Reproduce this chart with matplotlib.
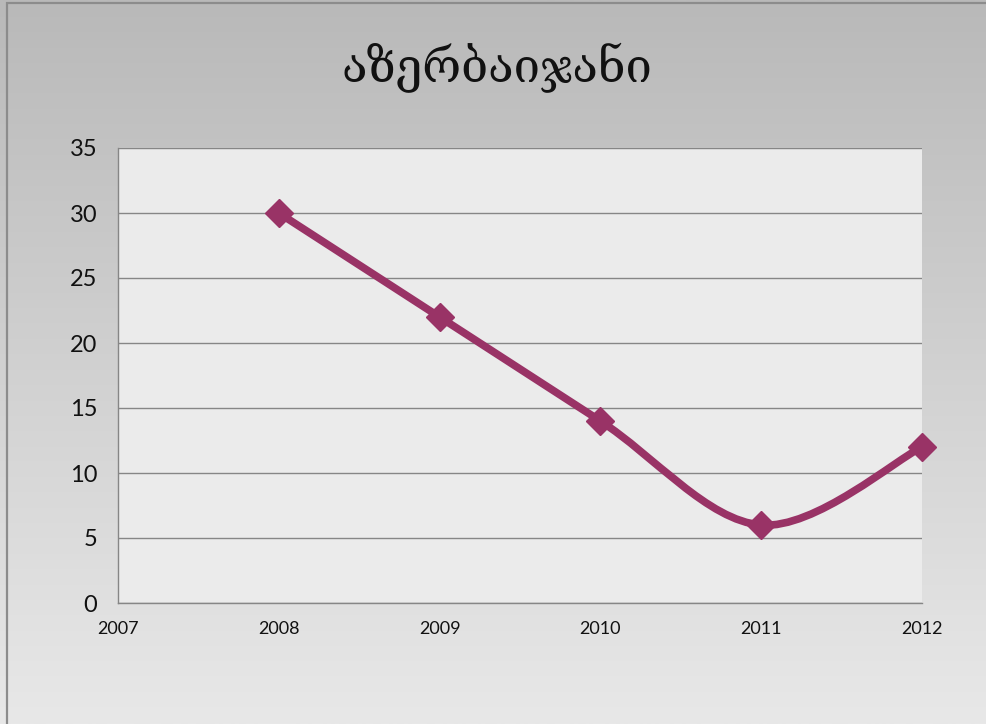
import numpy as np
import matplotlib as mpl, matplotlib.pyplot as plt
from matplotlib.path import Path
from matplotlib.patches import PathPatch, Rectangle

LINE = "#993366"; GRID = "#868686"; PLOT_BG = "#EBEBEB"
mpl.rcParams.update({"font.family": ["Lato", "DejaVu Sans"]})

title = "აზერბაიჯანი"
years = [2008, 2009, 2010, 2011, 2012]
values = [30, 22, 14, 6, 12]
x_ticks = [2007, 2008, 2009, 2010, 2011, 2012]
y_ticks = [0, 5, 10, 15, 20, 25, 30, 35]

fig = plt.figure(figsize=(9.87, 7.24), dpi=100)

# vertical grey gradient behind everything
bg = fig.add_axes([0, 0, 1, 1], zorder=-10)
grad = np.linspace(0, 1, 256).reshape(-1, 1)
top, bot = np.array([0xB9, 0xB9, 0xB9]) / 255, np.array([0xE8, 0xE8, 0xE8]) / 255
img = top + (bot - top) * grad[..., None]
bg.imshow(img, aspect="auto", extent=[0, 1, 0, 1])
bg.set_axis_off()
fig.add_artist(Rectangle((7 / 987, -0.1), 1.2, 1.1 - 3 / 724, transform=fig.transFigure,
                         fill=False, edgecolor="#8C8C8C", lw=1.6, zorder=-5))

ax = fig.add_axes([118 / 987, 121 / 724, 804 / 987, 455 / 724])
ax.set_facecolor(PLOT_BG)
ax.set_xlim(2007, 2012); ax.set_ylim(0, 35)
ax.set_xticks(x_ticks); ax.set_yticks(y_ticks)
ax.grid(axis="y", color=GRID, lw=1.0, zorder=0)
ax.set_axisbelow(True)
for s in ["top", "right"]:
    ax.spines[s].set_visible(False)
for s in ["left", "bottom"]:
    ax.spines[s].set_color(GRID); ax.spines[s].set_linewidth(1.0)
ax.tick_params(length=0)
ax.tick_params(axis="y", labelsize=17, pad=15, labelcolor="#111111")
ax.tick_params(axis="x", labelsize=13, pad=13, labelcolor="#111111")

# smoothed line: cubic Bezier segments through the points (Catmull-Rom style)
P = np.column_stack([years, values]).astype(float)
verts = [P[0]]; codes = [Path.MOVETO]
for i in range(len(P) - 1):
    prev = P[i - 1] if i > 0 else P[i]
    nxt = P[i + 2] if i + 2 < len(P) else P[i + 1]
    c1 = P[i] + (P[i + 1] - prev) / 6
    c2 = P[i + 1] - (nxt - P[i]) / 6
    verts += [c1, c2, P[i + 1]]; codes += [Path.CURVE4] * 3
ax.add_patch(PathPatch(Path(verts, codes), fill=False, edgecolor=LINE, lw=5.5,
                       capstyle="round", joinstyle="round", zorder=3, clip_on=False))
ax.plot(years, values, ls="none", marker="D", ms=14, color=LINE, zorder=4, clip_on=False)

fig.text(497 / 987, 1 - 68 / 724, title, ha="center", va="center", fontsize=34,
         family=["DejaVu Serif", "DejaVu Sans"], color="#111111")

fig.savefig("out.png", dpi=100)
